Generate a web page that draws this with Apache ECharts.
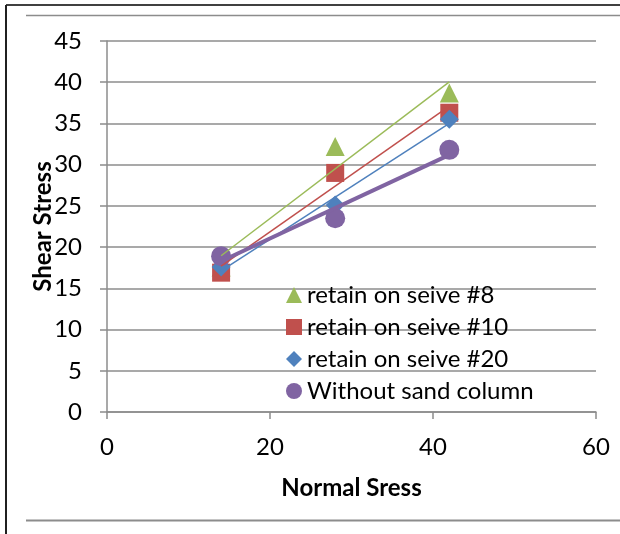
<!DOCTYPE html>
<html>
<head>
<meta charset="utf-8">
<script src="https://cdn.jsdelivr.net/npm/echarts@6/dist/echarts.min.js"></script>
<style>
  html, body { margin: 0; padding: 0; background: #fff; }
  #chart { width: 620px; height: 534px; }
</style>
</head>
<body>
<div id="chart"></div>
<script>
// Normal stress levels used in the direct shear tests
var normalStress = [14, 28, 42];

// Shear stress measured for each sample
var seive8 = [17.6, 32.2, 38.7];
var seive10 = [16.9, 29.0, 36.3];
var seive20 = [17.6, 25.1, 35.5];
var withoutSand = [18.9, 23.5, 31.8];

var seriesNames = ['retain on seive #8', 'retain on seive #10', 'retain on seive #20', 'Without sand column'];
var seriesColors = ['#9BBB59', '#C0504D', '#4F81BD', '#8064A2'];
var seriesSymbols = ['triangle', 'rect', 'diamond', 'circle'];
var seriesSizes = [19, 18, 19, 20];
var trendWidths = [1.5, 1.5, 1.5, 4];

var xTicks = [0, 20, 40, 60];
var yTicks = [0, 5, 10, 15, 20, 25, 30, 35, 40, 45];

var FONT = 'Lato, "Liberation Sans", sans-serif';
var FS = 24;

// Least-squares line through the measured points, drawn over the tested range
function linearTrend(xs, ys) {
  var n = xs.length, sx = 0, sy = 0, sxy = 0, sxx = 0;
  for (var i = 0; i < n; i++) {
    sx += xs[i]; sy += ys[i]; sxy += xs[i] * ys[i]; sxx += xs[i] * xs[i];
  }
  var slope = (n * sxy - sx * sy) / (n * sxx - sx * sx);
  var icpt = (sy - slope * sx) / n;
  var x0 = Math.min.apply(null, xs), x1 = Math.max.apply(null, xs);
  return [[x0, icpt + slope * x0], [x1, icpt + slope * x1]];
}

var allData = [seive8, seive10, seive20, withoutSand];

var series = [];
allData.forEach(function (ys, i) {
  series.push({
    name: seriesNames[i],
    type: 'scatter',
    symbol: seriesSymbols[i],
    symbolSize: seriesSizes[i],
    itemStyle: { color: seriesColors[i], opacity: 1 },
    z: 2,
    data: normalStress.map(function (x, k) { return [x, ys[k]]; })
  });
});
allData.forEach(function (ys, i) {
  series.push({
    name: 'trend ' + i,
    type: 'line',
    showSymbol: false,
    symbol: 'none',
    silent: true,
    z: 3,
    lineStyle: { color: seriesColors[i], width: trendWidths[i] },
    data: linearTrend(normalStress, ys)
  });
});

var chart = echarts.init(document.getElementById('chart'), null, { renderer: 'canvas' });
chart.setOption({
  animation: false,
  backgroundColor: '#ffffff',
  textStyle: { fontFamily: FONT },
  grid: { left: 107, right: 24, top: 41, bottom: 122 },
  xAxis: {
    type: 'value',
    min: xTicks[0], max: xTicks[xTicks.length - 1], interval: 20,
    name: 'Normal Sress',
    nameLocation: 'middle',
    nameGap: 64,
    nameMoveOverlap: false,
    nameTextStyle: { fontFamily: FONT, fontSize: FS, fontWeight: 'bold', color: '#000' },
    axisLine: { show: true, lineStyle: { color: '#8c8c8c', width: 1.5 } },
    axisTick: { show: true, length: 7, inside: false, lineStyle: { color: '#8c8c8c', width: 1.5 } },
    axisLabel: { fontFamily: FONT, fontSize: FS, color: '#000', margin: 23 },
    splitLine: { show: false }
  },
  yAxis: {
    type: 'value',
    min: yTicks[0], max: yTicks[yTicks.length - 1], interval: 5,
    name: 'Shear Stress',
    nameLocation: 'middle',
    nameGap: 52,
    nameRotate: 90,
    nameMoveOverlap: false,
    nameTextStyle: { fontFamily: FONT, fontSize: FS, fontWeight: 'bold', color: '#000' },
    axisLine: { show: true, lineStyle: { color: '#8c8c8c', width: 1.5 } },
    axisTick: { show: true, length: 7, inside: false, lineStyle: { color: '#8c8c8c', width: 1.5 } },
    axisLabel: { fontFamily: FONT, fontSize: FS, color: '#000', margin: 25 },
    splitLine: { show: true, lineStyle: { color: '#8c8c8c', width: 1.5 } }
  },
  legend: {
    data: seriesNames.map(function (n, i) { return { name: n, icon: seriesSymbols[i] }; }),
    orient: 'vertical',
    left: 286,
    top: 283,
    padding: 0,
    itemWidth: 16,
    itemHeight: 16,
    itemGap: 8,
    textStyle: { fontFamily: FONT, fontSize: FS, lineHeight: 24, color: '#000', padding: [0, 0, 0, 0] }
  },
  graphic: [
    // outer frame lines around the figure
    { type: 'line', shape: { x1: 6, y1: 5, x2: 620, y2: 5 }, style: { stroke: '#404040', lineWidth: 2 }, silent: true },
    { type: 'line', shape: { x1: 6, y1: 5, x2: 6, y2: 534 }, style: { stroke: '#202020', lineWidth: 2 }, silent: true },
    { type: 'line', shape: { x1: 26, y1: 15.5, x2: 620, y2: 15.5 }, style: { stroke: '#8c8c8c', lineWidth: 1.5 }, silent: true },
    { type: 'line', shape: { x1: 26, y1: 520.5, x2: 620, y2: 520.5 }, style: { stroke: '#8c8c8c', lineWidth: 2 }, silent: true }
  ],
  series: series
});
</script>
</body>
</html>
